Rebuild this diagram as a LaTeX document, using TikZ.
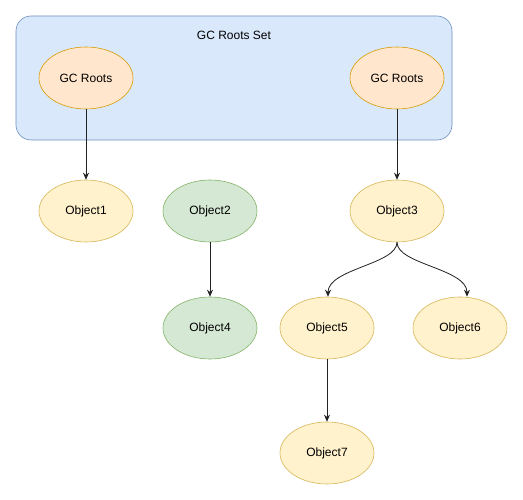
\documentclass[tikz,border=0pt]{standalone}
\usepackage{fontspec}
\setmainfont{Liberation Sans}
\usetikzlibrary{shapes.geometric,arrows.meta}
\definecolor{setfill}{HTML}{DAE8FC}
\definecolor{setdraw}{HTML}{6C8EBF}
\definecolor{rootfill}{HTML}{FFE6CC}
\definecolor{rootdraw}{HTML}{D79B00}
\definecolor{objfill}{HTML}{FFF2CC}
\definecolor{objdraw}{HTML}{D6B656}
\definecolor{grnfill}{HTML}{D5E8D4}
\definecolor{grndraw}{HTML}{82B366}
\definecolor{edgecol}{HTML}{222222}
\tikzset{
  oval/.style={ellipse, minimum width=94pt, minimum height=62pt, inner sep=0pt, font=\fontsize{12pt}{14pt}\selectfont, line width=0.6pt},
  rootnode/.style={oval, draw=rootdraw, fill=rootfill},
  objnode/.style={oval, draw=objdraw, fill=objfill},
  grnnode/.style={oval, draw=grndraw, fill=grnfill},
  link/.style={draw=edgecol, line width=0.8pt, -{Stealth[length=7pt,width=6pt]}},
  setbox/.style={draw=setdraw, fill=setfill, rounded corners=15pt, line width=0.6pt}
}
\begin{document}
\begin{tikzpicture}[x=1pt,y=-1pt]
\useasboundingbox (0,0) rectangle (523,500);
\fill[white] (0,0) rectangle (523,500);
\node[setbox, minimum width=436pt, minimum height=124pt, inner sep=0pt] (set) at (234,78) {};
\node[font=\fontsize{12pt}{14pt}\selectfont] (settitle) at (234,35) {GC Roots Set};
\node[rootnode] (r1) at (86,78) {GC Roots};
\node[rootnode] (r2) at (397,78) {GC Roots};
\node[objnode] (o1) at (86,211) {Object1};
\node[grnnode] (o2) at (210,211) {Object2};
\node[objnode] (o3) at (397,211) {Object3};
\node[grnnode] (o4) at (210,328) {Object4};
\node[objnode] (o5) at (327,328) {Object5};
\node[objnode] (o6) at (460,328) {Object6};
\node[objnode] (o7) at (327,453) {Object7};
\draw[link] (r1) -- (o1);
\draw[link] (r2) -- (o3);
\draw[link] (o2) -- (o4);
\draw[link] (o5) -- (o7);
\draw[link] (o3.south) .. controls ++(0,22) and ++(0,-28) .. ([xshift=1pt]o5.north);
\draw[link] (o3.south) .. controls ++(0,22) and ++(0,-28) .. ([xshift=7pt]o6.north);
\end{tikzpicture}
\end{document}
